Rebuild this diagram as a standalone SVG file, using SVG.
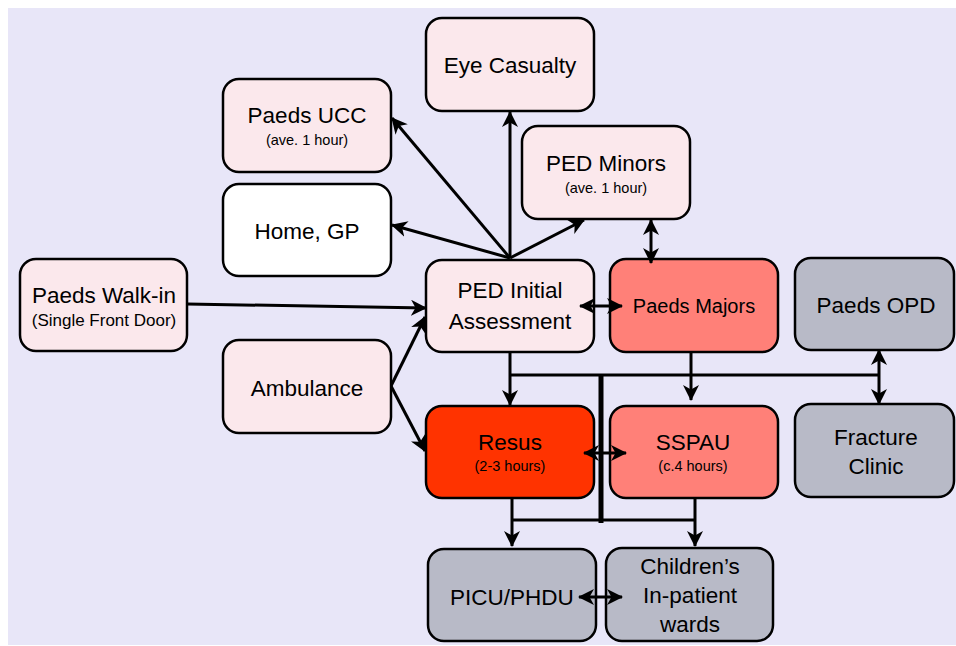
<svg xmlns="http://www.w3.org/2000/svg" width="956" height="646" viewBox="0 0 956 646">
<style>
.box{stroke:#000;stroke-width:2.5}
.pink{fill:#FBE8EC}
.white{fill:#FFFFFF}
.majors{fill:#FF8078}
.resus{fill:#FF3300}
.grey{fill:#B8BAC7}
text{font-family:"Liberation Sans",Arial,Helvetica,sans-serif;fill:#000;text-anchor:middle}
.t{font-size:22.5px}
.tm{font-size:20px}
.s{font-size:14.5px}
.s2{font-size:17px}
.ln{stroke:#000;stroke-width:3;fill:none}
</style>
<defs>
<marker id="ah" markerUnits="userSpaceOnUse" markerWidth="18" markerHeight="16" refX="15" refY="8" orient="auto-start-reverse">
<path d="M0,0 L16,8 L0,16 L4.5,8 z" fill="#000"/>
</marker>
</defs>
<rect x="0" y="0" width="956" height="646" fill="#FFFFFF"/>
<rect x="8" y="8" width="948" height="637" fill="#E8E6F8"/>

<g id="connectors">
<line class="ln" x1="187" y1="304" x2="426" y2="308" marker-end="url(#ah)"/>
<line class="ln" x1="391" y1="386" x2="425" y2="317" marker-end="url(#ah)"/>
<line class="ln" x1="391" y1="386" x2="425" y2="451" marker-end="url(#ah)"/>
<line class="ln" x1="510" y1="258" x2="392" y2="118" marker-end="url(#ah)"/>
<line class="ln" x1="510" y1="258" x2="392" y2="225" marker-end="url(#ah)"/>
<line class="ln" x1="510" y1="258" x2="510" y2="112" marker-end="url(#ah)"/>
<line class="ln" x1="510" y1="258" x2="584" y2="220" marker-end="url(#ah)"/>
<line class="ln" x1="510" y1="352" x2="510" y2="405" marker-end="url(#ah)"/>
<line class="ln" x1="510" y1="375" x2="879" y2="375"/>
<line class="ln" x1="691" y1="352" x2="691" y2="400" marker-end="url(#ah)"/>
<line x1="601" y1="375" x2="601" y2="523" stroke="#000" stroke-width="5"/>
<line class="ln" x1="512" y1="498" x2="512" y2="546" marker-end="url(#ah)"/>
<line class="ln" x1="512" y1="520" x2="695" y2="520"/>
<line class="ln" x1="695" y1="498" x2="695" y2="546" marker-end="url(#ah)"/>
</g>

<g id="eye"><rect class="box pink" x="426" y="18" width="168" height="93" rx="16"/><text class="t" x="510" y="73">Eye Casualty</text></g>
<g id="ucc"><rect class="box pink" x="223" y="79" width="168" height="93" rx="16"/><text class="t" x="307" y="123">Paeds UCC</text><text class="s" x="307" y="145">(ave. 1 hour)</text></g>
<g id="home"><rect class="box white" x="223" y="184" width="168" height="92" rx="16"/><text class="t" x="307" y="239">Home, GP</text></g>
<g id="minors"><rect class="box pink" x="522" y="126" width="168" height="93" rx="16"/><text class="t" x="606" y="171">PED Minors</text><text class="s" x="606" y="193">(ave. 1 hour)</text></g>
<g id="walkin"><rect class="box pink" x="20" y="259" width="167" height="92" rx="16"/><text class="t" x="104" y="303">Paeds Walk-in</text><text class="s2" x="104" y="326">(Single Front Door)</text></g>
<g id="ped"><rect class="box pink" x="426" y="260" width="168" height="92" rx="16"/><text class="t" x="510" y="298">PED Initial</text><text class="t" x="510" y="329">Assessment</text></g>
<g id="majors"><rect class="box majors" x="610" y="259" width="168" height="93" rx="16"/><text class="tm" x="694" y="313">Paeds Majors</text></g>
<g id="opd"><rect class="box grey" x="795" y="258" width="159" height="92" rx="16"/><text class="t" x="876" y="313">Paeds OPD</text></g>
<g id="ambulance"><rect class="box pink" x="223" y="340" width="168" height="93" rx="16"/><text class="t" x="307" y="396">Ambulance</text></g>
<g id="resus"><rect class="box resus" x="426" y="406" width="168" height="92" rx="16"/><text class="t" x="510" y="450">Resus</text><text class="s" x="510" y="471">(2-3 hours)</text></g>
<g id="sspau"><rect class="box majors" x="610" y="406" width="168" height="92" rx="16"/><text class="t" x="693" y="450">SSPAU</text><text class="s" x="693" y="471">(c.4 hours)</text></g>
<g id="fracture"><rect class="box grey" x="795" y="404" width="159" height="93" rx="16"/><text class="t" x="876" y="445">Fracture</text><text class="t" x="876" y="474">Clinic</text></g>
<g id="picu"><rect class="box grey" x="428" y="549" width="168" height="92" rx="16"/><text class="t" x="512" y="605">PICU/PHDU</text></g>
<g id="wards"><rect class="box grey" x="606" y="548" width="167" height="93" rx="16"/><text class="t" x="690" y="574">Children’s</text><text class="t" x="690" y="603">In-patient</text><text class="t" x="690" y="632">wards</text></g>

<g id="connectors-front">
<line class="ln" x1="651" y1="220" x2="651" y2="263" marker-start="url(#ah)" marker-end="url(#ah)"/>
<line class="ln" x1="580" y1="306" x2="622" y2="306" marker-start="url(#ah)" marker-end="url(#ah)"/>
<line class="ln" x1="879" y1="350" x2="879" y2="404" marker-start="url(#ah)" marker-end="url(#ah)"/>
<line class="ln" x1="584" y1="453" x2="626" y2="453" marker-start="url(#ah)" marker-end="url(#ah)"/>
<line class="ln" x1="579" y1="597" x2="622" y2="597" marker-start="url(#ah)" marker-end="url(#ah)"/>
</g>
</svg>
